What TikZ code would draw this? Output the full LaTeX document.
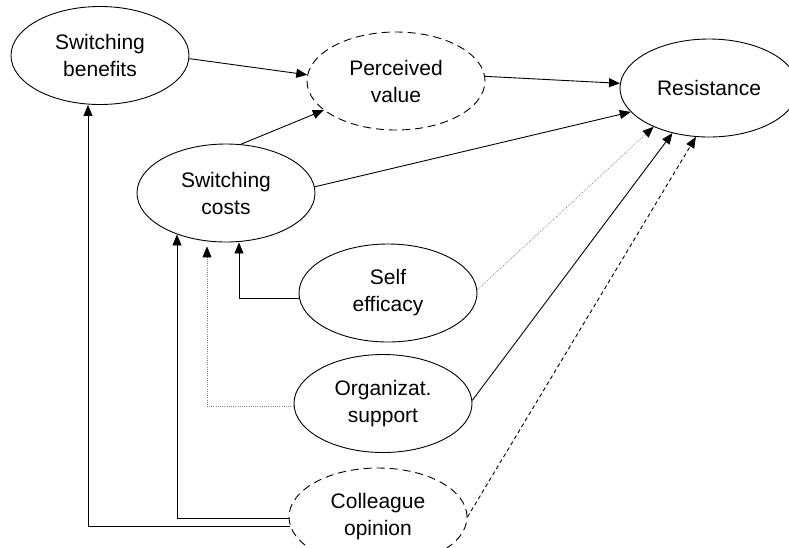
\documentclass[tikz,border=0pt]{standalone}
\usepackage{fontspec}
\setmainfont{Liberation Sans}
\usetikzlibrary{shapes.geometric,arrows.meta}
\begin{document}
\begin{tikzpicture}[x=1pt,y=-1pt,
  ell/.style={ellipse,draw,line width=0.9pt,minimum width=178pt,minimum height=98pt,inner sep=0pt,align=center,font=\fontsize{21}{27}\selectfont},
  dell/.style={ell,dash pattern=on 8pt off 5pt},
  arr/.style={line width=0.9pt,-{Triangle[length=11pt,width=9pt,color=black]}},
  dotarr/.style={arr,line width=0.6pt,draw=gray,dash pattern=on 1pt off 1.2pt},
  dasharr/.style={arr,dash pattern=on 4pt off 3pt}]
\clip (0,0) rectangle (789,547);
\fill[white] (0,0) rectangle (789,547);
\node[ell]  (sb) at (100,55.5) {Switching\\benefits};
\node[dell] (pv) at (396,81) {Perceived\\value};
\node[ell]  (rs) at (709,88) {Resistance};
\node[ell]  (sc) at (226,193) {Switching\\costs};
\node[ell]  (se) at (388,293) {Self\\efficacy};
\node[ell]  (os) at (383,403.5) {Organizat.\\support};
\node[dell] (co) at (378,517) {Colleague\\opinion};
% to perceived value
\draw[arr] (sb.-2) -- (pv.176);
\draw[arr] (sc.73) -- (pv.202.5);
% to resistance
\draw[arr] (pv.3) -- (rs.177);
\draw[arr] (sc.4.5) -- (rs.197.5);
\draw[dotarr] (se.2) -- (rs.215.8);
\draw[arr] (os.2) -- (rs.231.3);
\draw[dasharr] (co.0) -- (rs.255.7);
% orthogonal connectors
\draw[arr] ([yshift=-5pt]se.west) -| ([xshift=13pt]sc.south);
\draw[dotarr] ([yshift=-3pt]os.west) -| ([xshift=-19pt,yshift=-4pt]sc.south);
\draw[arr] ([yshift=-1pt]co.west) -| ([xshift=-49pt,yshift=8pt]sc.south);
\draw[arr] ([yshift=-9pt,xshift=1pt]co.west) -| ([xshift=-12pt]sb.south);
\end{tikzpicture}
\end{document}
